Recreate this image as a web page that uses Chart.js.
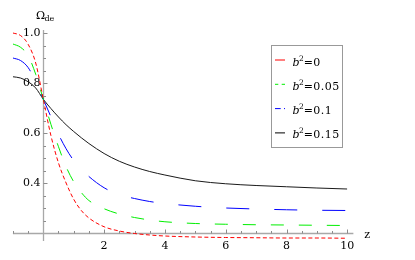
<!DOCTYPE html>
<html>
<head>
<meta charset="utf-8">
<script src="https://cdn.jsdelivr.net/npm/chart.js@4/dist/chart.umd.min.js"></script>
<style>
  html, body { margin: 0; padding: 0; background: #fff; }
</style>
</head>
<body>
<canvas id="omegaChart" width="415" height="260"></canvas>
<script>
const zValues = [-1, -0.75, -0.5, -0.25, 0, 0.25, 0.5, 0.75, 1, 1.25, 1.5, 2, 2.5, 3, 3.5, 4, 5, 6, 7, 8, 9, 10];
const omegaB0 = [1.0, 0.99, 0.955, 0.88, 0.735, 0.59, 0.48, 0.40, 0.335, 0.29, 0.26, 0.225, 0.208, 0.198, 0.192, 0.188, 0.184, 0.182, 0.181, 0.18, 0.18, 0.179];
const omegaB005 = [0.956, 0.943, 0.91, 0.835, 0.735, 0.635, 0.545, 0.465, 0.405, 0.362, 0.33, 0.297, 0.276, 0.262, 0.252, 0.245, 0.238, 0.235, 0.233, 0.232, 0.231, 0.23];
const omegaB01 = [0.90, 0.89, 0.862, 0.805, 0.735, 0.665, 0.595, 0.537, 0.49, 0.456, 0.426, 0.381, 0.353, 0.338, 0.326, 0.318, 0.307, 0.30, 0.296, 0.293, 0.291, 0.29];
const omegaB015 = [0.825, 0.82, 0.805, 0.78, 0.735, 0.698, 0.664, 0.633, 0.606, 0.581, 0.558, 0.518, 0.487, 0.464, 0.446, 0.432, 0.409, 0.397, 0.39, 0.385, 0.38, 0.376];
const bSquared = ['0', '0.05', '0.1', '0.15'];
const xTickLabels = [2, 4, 6, 8, 10];
const yTickLabels = [0.4, 0.6, 0.8, 1.0];

const serif = '"DejaVu Serif", serif';

function toPoints(values) {
  return zValues.map((z, i) => ({ x: z, y: values[i] }));
}

// Mathematica-style axes crossing at (0, 0.2)
const axesPlugin = {
  id: 'mathAxes',
  beforeDatasetsDraw(chart) {
    const { ctx, scales: { x, y } } = chart;
    const x0 = Math.round(x.getPixelForValue(0)) + 0.5;
    const y0 = Math.round(y.getPixelForValue(0.2)) + 0.5;
    ctx.save();
    ctx.strokeStyle = '#a8a8a8';
    ctx.lineWidth = 1.3;
    ctx.beginPath();
    ctx.moveTo(x.getPixelForValue(-1), y0);
    ctx.lineTo(x.getPixelForValue(10.2), y0);
    ctx.moveTo(x0, y.getPixelForValue(1.012));
    ctx.lineTo(x0, y.getPixelForValue(0.168));
    ctx.stroke();

    ctx.lineWidth = 1;
    ctx.strokeStyle = '#8c8c8c';
    ctx.beginPath();
    for (let i = -2; i <= 20; i++) {
      if (i === 0) continue;
      const px = Math.round(x.getPixelForValue(i / 2)) + 0.5;
      const len = i % 4 === 0 ? 4 : 2.5;
      ctx.moveTo(px, y0);
      ctx.lineTo(px, y0 - len);
    }
    for (let i = 5; i <= 20; i++) {
      const py = Math.round(y.getPixelForValue(i / 20)) + 0.5;
      const len = i % 4 === 0 ? 4 : 2.5;
      ctx.moveTo(x0, py);
      ctx.lineTo(x0 + len, py);
    }
    ctx.stroke();

    ctx.fillStyle = '#000';
    ctx.font = '11px ' + serif;
    ctx.textAlign = 'center';
    ctx.textBaseline = 'alphabetic';
    xTickLabels.forEach(v => ctx.fillText(String(v), x.getPixelForValue(v), y0 + 15.5));
    ctx.textAlign = 'right';
    ctx.textBaseline = 'middle';
    yTickLabels.forEach(v => ctx.fillText(v.toFixed(1), x0 - 3, y.getPixelForValue(v)));

    // axis labels
    ctx.textAlign = 'left';
    ctx.textBaseline = 'alphabetic';
    ctx.fillText('z', x.getPixelForValue(10) + 17, y0 + 4);
    ctx.fillText('Ω', x0 - 7.5, 18.5);
    ctx.font = '8px ' + serif;
    ctx.fillText('de', x0 + 1, 20.5);
    ctx.restore();
  }
};

const legendStyles = [
  { color: '#ff0000', dash: [] },
  { color: '#00ee00', dash: [3.3, 3.4] },
  { color: '#0000ff', dash: [5.7, 3.3, 1, 3] },
  { color: '#000000', dash: [] }
];

const legendPlugin = {
  id: 'boxLegend',
  afterDraw(chart) {
    const { ctx } = chart;
    ctx.save();
    ctx.strokeStyle = '#999';
    ctx.lineWidth = 1;
    ctx.strokeRect(271.5, 45.5, 71, 102);
    bSquared.forEach((label, i) => {
      const cy = 61.5 + i * 24.3;
      ctx.strokeStyle = legendStyles[i].color;
      ctx.setLineDash(legendStyles[i].dash);
      ctx.beginPath();
      ctx.moveTo(275, cy - 1.5);
      ctx.lineTo(285, cy - 1.5);
      ctx.stroke();
      ctx.setLineDash([]);

      let tx = 292.5;
      const base = cy + 4;
      ctx.fillStyle = '#000';
      ctx.textAlign = 'left';
      ctx.textBaseline = 'alphabetic';
      ctx.font = 'italic 11px ' + serif;
      ctx.fillText('b', tx, base);
      tx += ctx.measureText('b').width - 0.5;
      ctx.font = '7.5px ' + serif;
      ctx.fillText('2', tx, base - 5);
      tx += ctx.measureText('2').width;
      ctx.font = '11px ' + serif;
      ctx.fillText('=', tx, base);
      tx += ctx.measureText('=').width + 0.3;
      ctx.letterSpacing = '0.5px';
      ctx.fillText(label, tx, base);
      ctx.letterSpacing = '0px';
    });
    ctx.restore();
  }
};

new Chart(document.getElementById('omegaChart'), {
  type: 'line',
  data: {
    datasets: [
      {
        label: 'b2=0',
        data: toPoints(omegaB0),
        borderColor: '#ff0000',
        borderDash: [4, 2.5]
      },
      {
        label: 'b2=0.05',
        data: toPoints(omegaB005),
        borderColor: '#00ee00',
        borderDash: [13, 15]
      },
      {
        label: 'b2=0.1',
        data: toPoints(omegaB01),
        borderColor: '#0000ff',
        borderDash: [23, 25]
      },
      {
        label: 'b2=0.15',
        data: toPoints(omegaB015),
        borderColor: '#1a1a1a'
      }
    ]
  },
  options: {
    responsive: false,
    animation: false,
    devicePixelRatio: 1,
    layout: {
      padding: { left: 12.9, right: 67.7, top: 28, bottom: 19.5 }
    },
    elements: {
      point: { radius: 0 },
      line: { borderWidth: 1, cubicInterpolationMode: 'monotone', fill: false }
    },
    plugins: {
      legend: { display: false },
      tooltip: { enabled: false }
    },
    scales: {
      x: { type: 'linear', min: -1, max: 10, display: false },
      y: { type: 'linear', min: 0.17, max: 1.02, display: false }
    }
  },
  plugins: [axesPlugin, legendPlugin]
});
</script>
</body>
</html>
